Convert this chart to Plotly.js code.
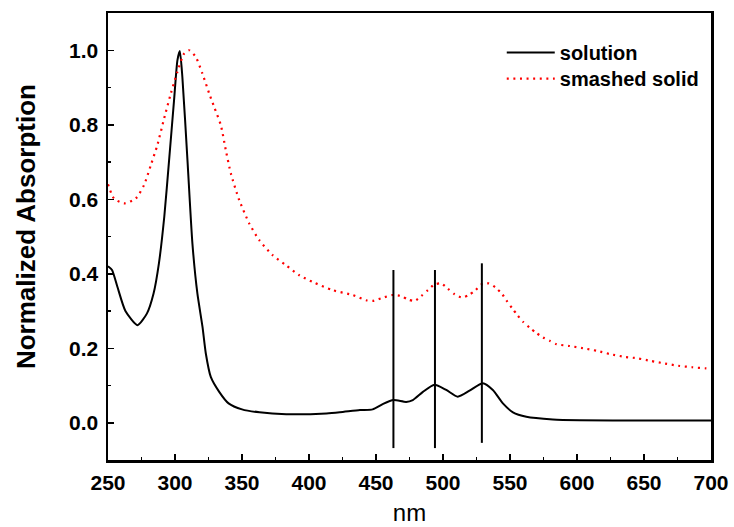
<!DOCTYPE html>
<html>
<head>
<meta charset="utf-8">
<script src="https://cdn.plot.ly/plotly-3.0.1.min.js"></script>
<style>html,body{margin:0;padding:0;background:#fff}#chart{width:734px;height:527px}</style>
</head>
<body>
<div id="chart"></div>
<script>
// solution (black solid)
const solNm  = [250, 253, 257, 263, 272, 279, 284, 288, 292, 295.6, 299.3, 301.8, 303.6, 305.5, 309.3, 313, 316.7, 320.5, 323, 326.7, 333, 340, 350, 363, 383, 413, 423, 438, 447.5, 455, 463, 472.5, 477.5, 485, 493.6, 502.4, 511, 519.8, 529.7, 537.2, 544.7, 552.2, 562.2, 582, 602, 650, 700];
const solVal = [0.42, 0.41, 0.365, 0.30, 0.262, 0.293, 0.347, 0.428, 0.553, 0.705, 0.866, 0.973, 0.998, 0.928, 0.705, 0.481, 0.347, 0.258, 0.186, 0.123, 0.083, 0.052, 0.036, 0.028, 0.023, 0.025, 0.028, 0.034, 0.036, 0.05, 0.061, 0.056, 0.061, 0.083, 0.102, 0.088, 0.07, 0.086, 0.106, 0.088, 0.052, 0.028, 0.016, 0.009, 0.007, 0.006, 0.006];
// smashed solid (red dotted)
const solidNm  = [250, 254.5, 262, 270.7, 276.9, 281.9, 286.8, 291.9, 296.9, 301.8, 306.8, 310.5, 315.5, 320.5, 325.5, 329.2, 334.2, 337.9, 341.7, 347.9, 355.4, 362.9, 372.8, 382.8, 392.8, 402.7, 417.6, 432.6, 442.6, 447.5, 453.8, 462.5, 468.8, 473.8, 478.7, 483.7, 488.7, 493.6, 498.6, 503.6, 508.6, 514.3, 519.3, 524.3, 528.5, 534.2, 539.2, 544.2, 548, 551.7, 555.5, 559.7, 564.7, 569.7, 574.6, 579.6, 584.6, 594.6, 604.5, 615, 625, 635.2, 645.2, 655.1, 665.6, 675.6, 686, 696.3, 700];
const solidVal = [0.64, 0.602, 0.589, 0.602, 0.638, 0.691, 0.745, 0.817, 0.884, 0.942, 0.991, 1.0, 0.982, 0.937, 0.884, 0.848, 0.799, 0.732, 0.669, 0.598, 0.535, 0.49, 0.45, 0.423, 0.396, 0.378, 0.356, 0.343, 0.329, 0.327, 0.334, 0.343, 0.34, 0.331, 0.327, 0.34, 0.356, 0.371, 0.374, 0.36, 0.345, 0.336, 0.343, 0.356, 0.371, 0.374, 0.363, 0.345, 0.325, 0.307, 0.289, 0.271, 0.255, 0.241, 0.229, 0.22, 0.211, 0.206, 0.2, 0.193, 0.184, 0.177, 0.173, 0.166, 0.159, 0.153, 0.149, 0.146, 0.145];
// vertical marker lines
const markNm = [463, 494, 529];
const markTop = [0.41, 0.41, 0.428];
const markBottom = [-0.068, -0.068, -0.054];

const xTicks = [250, 300, 350, 400, 450, 500, 550, 600, 650, 700];
const yTicks = [0.0, 0.2, 0.4, 0.6, 0.8, 1.0];
const yTitle = 'Normalized Absorption';
const xTitle = 'nm';

const font = 'Liberation Sans, Arial, sans-serif';
const legFont = {family: font, size: 20, weight: 'bold'};

const traces = [
  {x: solNm, y: solVal, mode: 'lines', name: 'solution', legend: 'legend',
   line: {color: '#000', width: 2, shape: 'spline', smoothing: 0.6}},
  {x: solidNm, y: solidVal, mode: 'lines', name: 'smashed solid', legend: 'legend2',
   line: {color: '#ff0000', width: 2.2, dash: '2px,4.6px', shape: 'spline', smoothing: 0.6}}
];
markNm.forEach((nm, i) => {
  traces.push({x: [nm, nm], y: [markBottom[i], markTop[i]], mode: 'lines',
    showlegend: false, hoverinfo: 'skip', line: {color: '#000', width: 2}});
});

const layout = {
  width: 734, height: 527,
  margin: {l: 108, r: 23, t: 13, b: 67},
  paper_bgcolor: '#fff', plot_bgcolor: '#fff',
  font: {family: font, color: '#000'},
  showlegend: true,
  legend: {x: 0.653, y: 0.955, xanchor: 'left', yanchor: 'top',
    bgcolor: 'rgba(0,0,0,0)', font: legFont, itemwidth: 48},
  legend2: {x: 0.653, y: 0.897, xanchor: 'left', yanchor: 'top',
    bgcolor: 'rgba(0,0,0,0)', font: legFont, itemwidth: 48},
  xaxis: {
    range: [250, 700], tickvals: xTicks, ticktext: xTicks.map(String),
    ticks: 'inside', ticklen: 6, tickwidth: 1.5, tickcolor: '#000',
    minor: {ticks: 'inside', ticklen: 3, tickwidth: 1.5, tickcolor: '#000', dtick: 25, tick0: 250},
    showline: true, linewidth: 2.5, linecolor: '#000', mirror: true,
    showgrid: false, zeroline: false,
    tickfont: {family: font, size: 21, weight: 'bold'},
    ticklabelstandoff: 2,
    title: {text: xTitle, font: {family: font, size: 24}, standoff: 12}
  },
  yaxis: {
    range: [-0.1, 1.1], tickvals: yTicks, ticktext: yTicks.map(v => v.toFixed(1)),
    ticks: 'inside', ticklen: 6, tickwidth: 1.5, tickcolor: '#000',
    minor: {ticks: 'inside', ticklen: 3, tickwidth: 1.5, tickcolor: '#000', dtick: 0.1, tick0: 0},
    showline: true, linewidth: 2.5, linecolor: '#000', mirror: true,
    showgrid: false, zeroline: false,
    tickfont: {family: font, size: 21, weight: 'bold'},
    ticklabelstandoff: 3
  },
  annotations: [{
    text: yTitle, textangle: -90, showarrow: false,
    xref: 'paper', yref: 'paper', x: -0.137, y: 0.522,
    xanchor: 'center', yanchor: 'middle',
    font: {family: font, size: 26, weight: 'bold', color: '#000'}
  }]
};

Plotly.newPlot('chart', traces, layout, {displayModeBar: false, staticPlot: true});
</script>
</body>
</html>
